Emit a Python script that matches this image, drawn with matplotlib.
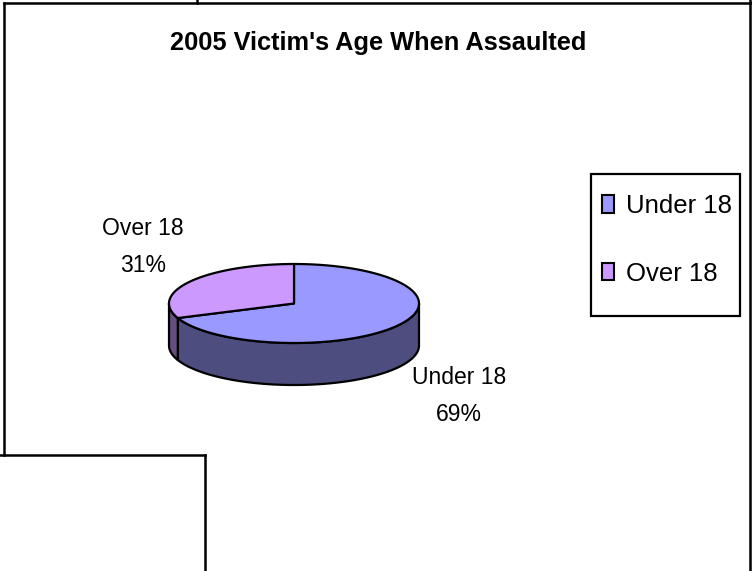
import matplotlib.pyplot as plt
import numpy as np
from matplotlib.patches import Polygon, Patch, Rectangle

categories = ["Under 18", "Over 18"]
values = [69, 31]
top_colors = ["#9999FF", "#CC99FF"]
side_colors = ["#4D4D80", "#664D80"]
title = "2005 Victim's Age When Assaulted"

# pie geometry in pixels (x right, y down)
cx, cy = 294, 303.5
rx, ry = 125, 39.5
depth = 42
label_pos = [(459, 396), (143, 247)]

sans = ["Liberation Sans", "DejaVu Sans"]

fig = plt.figure(figsize=(7.52, 5.71), dpi=100)
ax = fig.add_axes([0, 0, 1, 1])
ax.set_xlim(0, 752)
ax.set_ylim(571, 0)
ax.axis("off")


def rim(t):
    t = np.radians(t)
    return cx + rx * np.cos(t), cy - ry * np.sin(t)


# slices start at 12 o'clock and run clockwise
frac = np.array(values) / np.sum(values)
ends = 90 - 360 * np.cumsum(frac)
starts = np.r_[90, ends[:-1]]

# front walls: the part of each slice lying in 180..360 degrees
for a_hi, a_lo, col in zip(starts, ends, side_colors):
    for shift in (0, 360, -360):
        lo = max(a_lo + shift, 180)
        hi = min(a_hi + shift, 360)
        if hi <= lo:
            continue
        t = np.linspace(lo, hi, 200)
        x, y = rim(t)
        pts = np.r_[np.c_[x, y], np.c_[x[::-1], y[::-1] + depth]]
        ax.add_patch(Polygon(pts, closed=True, fc=col, ec="black", lw=1.6,
                             joinstyle="round"))

# top faces
for a_hi, a_lo, col in zip(starts, ends, top_colors):
    t = np.linspace(a_lo, a_hi, 300)
    x, y = rim(t)
    pts = np.r_[[[cx, cy]], np.c_[x, y]]
    ax.add_patch(Polygon(pts, closed=True, fc=col, ec="black", lw=1.6,
                         joinstyle="round"))

for (lx, ly), cat, v in zip(label_pos, categories, values):
    ax.text(lx, ly, f"{cat}\n{v}%", ha="center", va="center", fontsize=16.5,
            family=sans, linespacing=1.8)

ax.text(378, 50, title, ha="center", va="baseline", fontsize=18.3,
        fontweight="bold", family=sans)

# legend box and entries
ax.add_patch(Rectangle((591, 174), 149, 142, fc="white", ec="black", lw=1.6))
handles = [Patch(fc=c, ec="black", lw=1.5) for c in top_colors]
leg = ax.legend(handles, categories, loc="upper left",
                bbox_to_anchor=(602 / 752, 1 - 194 / 571),
                prop={"family": sans, "size": 18.5},
                frameon=False, handlelength=0.48, handleheight=0.66,
                handletextpad=0.45, labelspacing=1.7,
                borderpad=0, borderaxespad=0)

# outer frame lines
lk = dict(color="black", lw=1.8, solid_capstyle="projecting")
ax.plot([4, 752], [3, 3], **lk)
ax.plot([197, 197], [0, 3], **lk)
ax.plot([4, 4], [3, 455], **lk)
ax.plot([0, 205], [455, 455], **lk)
ax.plot([205, 205], [455, 571], **lk)
ax.plot([750, 750], [0, 571], **lk)

fig.savefig("out.png", dpi=100)
